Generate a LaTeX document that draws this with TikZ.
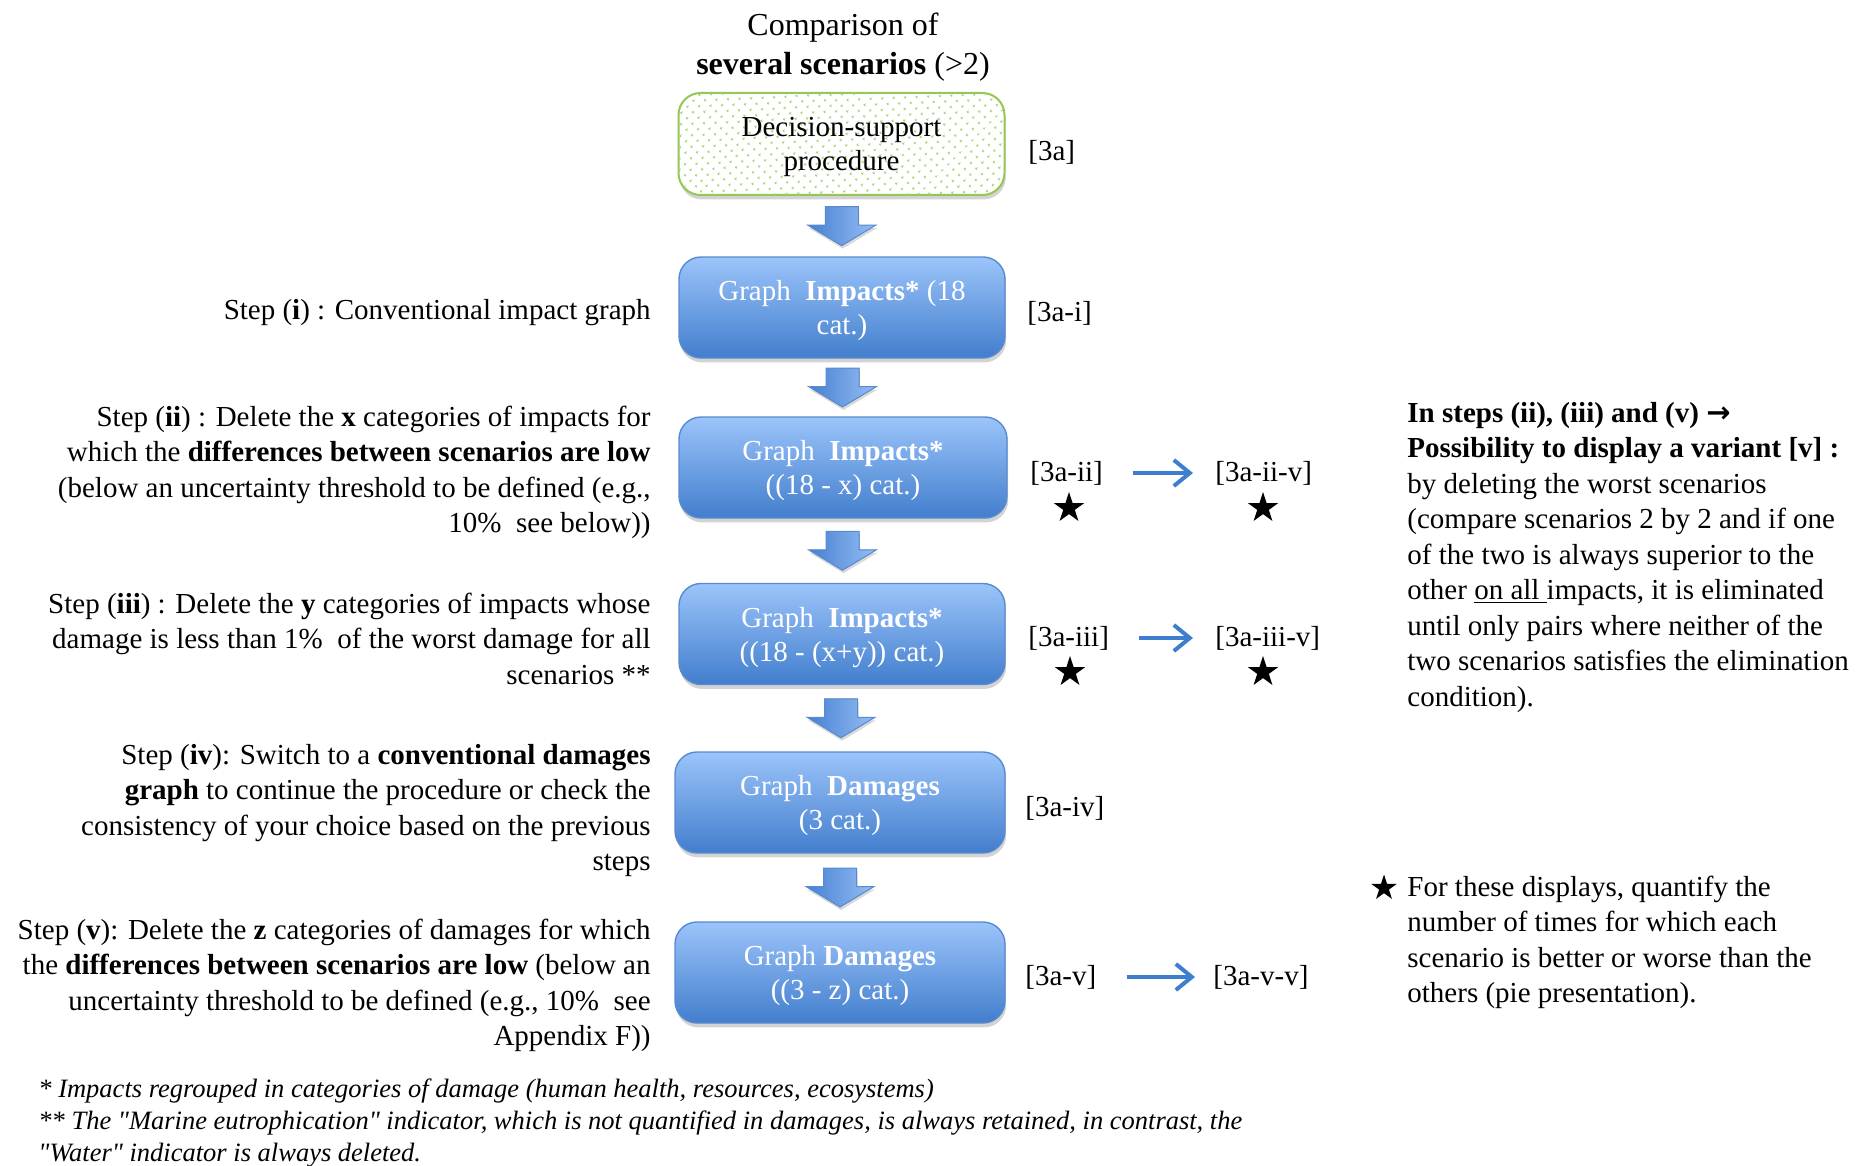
\documentclass[tikz,border=0pt]{standalone}
\usepackage{fontspec}
\setmainfont{Liberation Serif}
\newfontfamily\dejavu{DejaVu Sans}
\usetikzlibrary{shadows,patterns.meta,arrows.meta,calc,shapes.geometric}
\definecolor{boxtop}{RGB}{155,196,250}
\definecolor{boxbot}{RGB}{66,126,205}
\definecolor{boxline}{RGB}{88,138,208}
\definecolor{arrblue}{RGB}{62,126,206}
\definecolor{arrdark}{RGB}{70,128,208}
\definecolor{arrlight}{RGB}{150,190,245}
\definecolor{greenline}{RGB}{150,198,85}
\definecolor{greendot}{RGB}{160,214,110}
\newcommand\fs[2]{\fontsize{#1}{#2}\selectfont}
\newcommand\blockarr[2]{%
  \path ($(#1.center)!0.5!(#2.center)$) coordinate (mx);
  \path ($(#1.south)!0.5!(#2.north)$) coordinate (my);
  \begin{scope}[shift={(mx|-my)}]
    \filldraw[blockarrow] (-16.5,-19.5) -- (16.5,-19.5) -- (16.5,-1) -- (34,-1)
      -- (0,19.5) -- (-34,-1) -- (-16.5,-1) -- cycle;
  \end{scope}}
\begin{document}
\begin{tikzpicture}[x=0.5pt,y=-0.5pt,
  graphbox/.style={rounded corners=11pt, draw=boxline, line width=0.7pt,
    top color=boxtop, bottom color=boxbot, text=white, align=center,
    font=\fs{14.5pt}{17pt}, minimum width=163pt, minimum height=50.5pt, inner sep=0pt,
    text depth=-2pt,
    drop shadow={shadow xshift=0.6pt, shadow yshift=-2.2pt, opacity=0.35}},
  greenbox/.style={rounded corners=11pt, draw=greenline, line width=1pt, fill=white,
    postaction={pattern={Dots[distance=4pt,radius=0.7pt,angle=45]}, pattern color=greendot}, align=center,
    font=\fs{14.5pt}{17pt}, minimum width=163pt, minimum height=51pt, inner sep=0pt,
    text depth=-2pt,
    drop shadow={shadow xshift=0.6pt, shadow yshift=-2.2pt, opacity=0.35}},
  blockarrow/.style={draw=boxline, line width=0.5pt, left color=arrdark, right color=arrlight,
    drop shadow={shadow xshift=0.5pt, shadow yshift=-1.5pt, opacity=0.3}},
  steptext/.style={anchor=base east, align=right, inner sep=0pt, font=\fs{14.5pt}{17.75pt}},
  sidetext/.style={anchor=base west, align=left, inner sep=0pt, font=\fs{14.5pt}{17.75pt}},
  reflabel/.style={anchor=west, inner sep=0pt, font=\fs{14.5pt}{17pt}},
  titletext/.style={anchor=base, inner sep=0pt, font=\fs{16pt}{19.5pt}},
  bigstar/.style={star, star points=5, star point ratio=2.618, fill=black, inner sep=0pt, minimum size=16pt},
  smallstar/.style={star, star points=5, star point ratio=2.618, fill=black, inner sep=0pt, minimum size=13.5pt},
  smallarr/.style={draw=arrblue, line width=2pt, -{Straight Barb[length=8pt,width=13pt,line width=2pt]},
    shorten <=15pt, shorten >=11pt},
  footnote/.style={anchor=base west, align=left, inner sep=0pt, font=\fs{13.25pt}{16pt}\itshape}
]
\useasboundingbox (0,0) rectangle (1856,1166);

% title
\node[titletext] (t1) at (843,36) {Comparison of};
\node[titletext] (t2) at (843,75) {\textbf{several scenarios} (>2)};

% boxes
\node[greenbox] (b1) at (841.5,144) {Decision-support\\procedure};
\node[graphbox] (b2) at (842,307.5) {Graph\ \ \textbf{Impacts*} (18\\cat.)};
\node[graphbox, minimum width=164pt] (b3) at (843,467.5) {Graph\ \ \textbf{Impacts*}\\((18 - x) cat.)};
\node[graphbox] (b4) at (842,634) {Graph\ \ \textbf{Impacts*}\\((18 - (x+y)) cat.)};
\node[graphbox, minimum width=165pt] (b5) at (840,802.5) {Graph\ \ \textbf{Damages}\\(3 cat.)};
\node[graphbox, minimum width=165pt] (b6) at (840,972.5) {Graph \textbf{Damages}\\((3 - z) cat.)};

% block arrows
\blockarr{b1}{b2}
\blockarr{b2}{b3}
\blockarr{b3}{b4}
\blockarr{b4}{b5}
\blockarr{b5}{b6}

% reference labels
\node[reflabel] (l1) at (1028,152) {[3a]};
\node[reflabel] (l2) at (1027,313) {[3a-i]};
\node[reflabel] (l3) at (1030,473) {[3a-ii]};
\node[reflabel] (l3v) at (1215,473) {[3a-ii-v]};
\node[reflabel] (l4) at (1028,638) {[3a-iii]};
\node[reflabel] (l4v) at (1215,638) {[3a-iii-v]};
\node[reflabel] (l5) at (1025,808) {[3a-iv]};
\node[reflabel] (l6) at (1025,977) {[3a-v]};
\node[reflabel] (l6v) at (1213,977) {[3a-v-v]};

\node[bigstar] (s3) at (1069,508) {};
\node[bigstar] (s3v) at (1263,508) {};
\node[bigstar] (s4) at (1070,672) {};
\node[bigstar] (s4v) at (1263,672) {};

\draw[smallarr] (l3) -- (l3v);
\draw[smallarr] (l4) -- (l4v);
\draw[smallarr, shorten >=9pt] (l6) -- (l6v);

% left step texts (base = last line)
\node[steptext] (st1) at (651,319) {Step (\textbf{i}) : Conventional impact graph};
\node[steptext] (st2) at (651,532.5) {Step (\textbf{ii}) : Delete the \textbf{x} categories of impacts for\\
  which the \textbf{differences between scenarios are low}\\
  (below an uncertainty threshold to be defined (e.g.,\\
  10\%\ \ see below))};
\node[steptext] (st3) at (651,684) {Step (\textbf{iii}) : Delete the \textbf{y} categories of impacts whose\\
  damage is less than 1\%\ \ of the worst damage for all\\
  scenarios **};
\node[steptext] (st4) at (651,870.5) {Step (\textbf{iv}): Switch to a \textbf{conventional damages}\\
  \textbf{graph} to continue the procedure or check the\\
  consistency of your choice based on the previous\\
  steps};
\node[steptext] (st5) at (651,1045.5) {Step (\textbf{v}): Delete the \textbf{z} categories of damages for which\\
  the \textbf{differences between scenarios are low} (below an\\
  uncertainty threshold to be defined (e.g., 10\%\ \ see\\
  Appendix F))};

% right texts
\node[sidetext] (r1) at (1407,706) {\textbf{In steps (ii), (iii) and (v) {\dejavu\bfseries →}}\\
  \textbf{Possibility to display a variant [v] :}\\
  by deleting the worst scenarios\\
  (compare scenarios 2 by 2 and if one\\
  of the two is always superior to the\\
  other \underline{on all\ }impacts, it is eliminated\\
  until only pairs where neither of the\\
  two scenarios satisfies the elimination\\
  condition).};
\node[smallstar] (sn) at (1384,888) {};
\node[sidetext] (r2) at (1407,1002.5) {For these displays, quantify the\\
  number of times for which each\\
  scenario is better or worse than the\\
  others (pie presentation).};

% footnotes
\node[footnote] (fn) at (38,1161) {* Impacts regrouped in categories of damage (human health, resources, ecosystems)\\
  ** The \textquotedbl Marine eutrophication\textquotedbl\ indicator, which is not quantified in damages, is always retained, in contrast, the\\
  \textquotedbl Water\textquotedbl\ indicator is always deleted.};
\end{tikzpicture}
\end{document}
